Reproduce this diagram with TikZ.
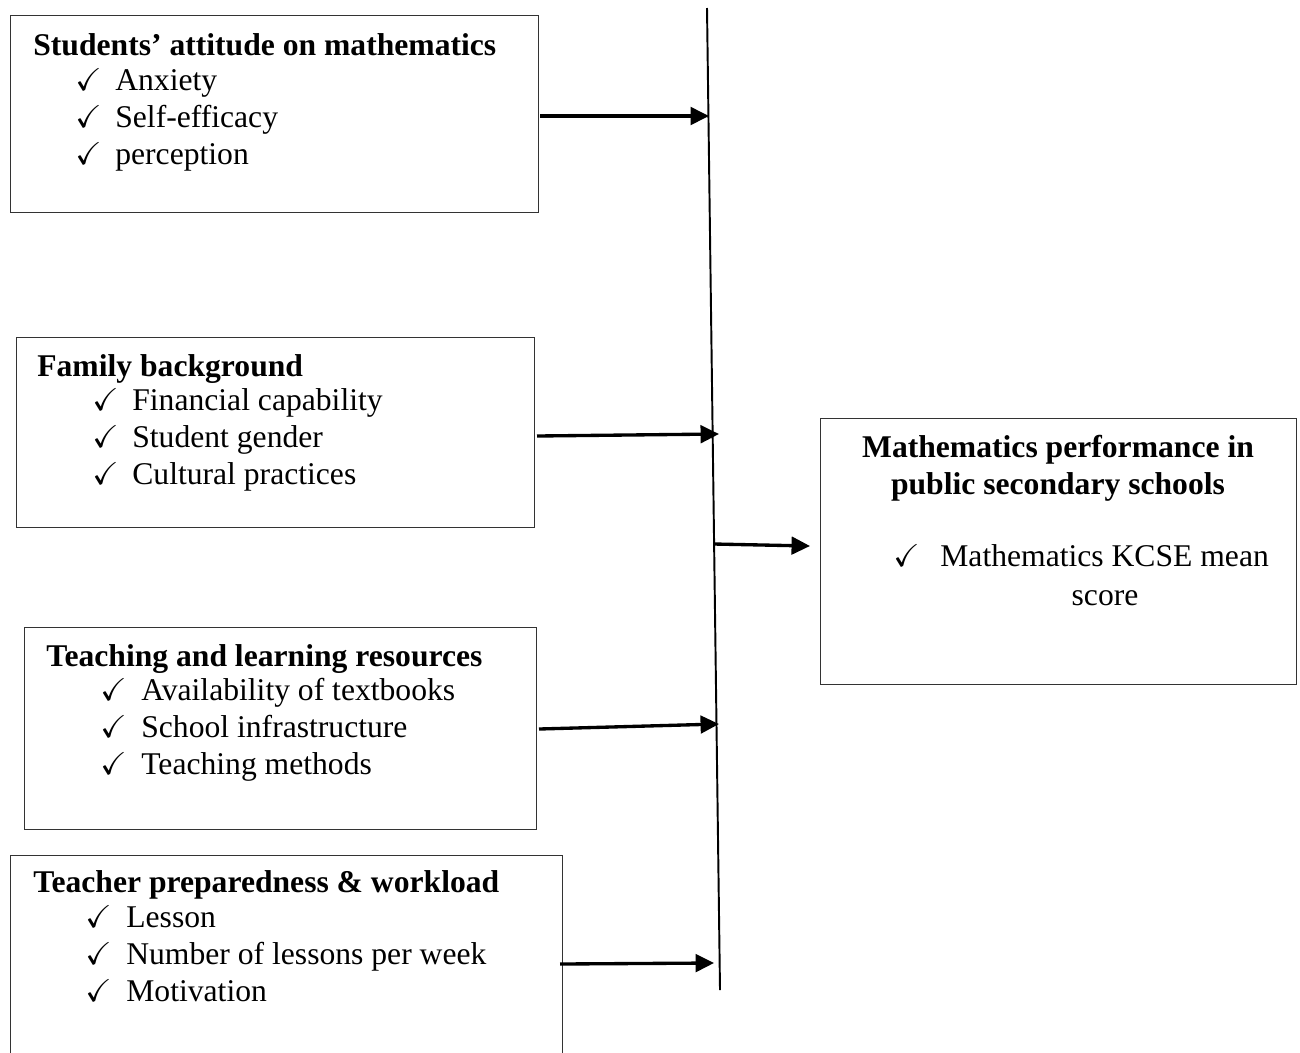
\documentclass[tikz,border=0pt]{standalone}
\usepackage{amssymb}
\usepackage{fontspec}
\setmainfont{Liberation Serif}
\usetikzlibrary{arrows.meta}

\begin{document}
\begin{tikzpicture}[
  x=0.02cm,
  y=-0.02cm,
  every node/.style={font=\fontsize{18}{21}\selectfont, inner sep=0pt},
  box/.style={draw=black!80, line width=0.6pt, anchor=north west},
  heading/.style={font=\fontsize{18}{21}\selectfont\bfseries, anchor=base west},
  item/.style={anchor=base west},
  tickmark/.style={font=\fontsize{18}{21}\selectfont, anchor=base west,
                   text height=8pt, text depth=0pt},
  spine/.style={line width=1.1pt},
  link/.style={line width=1.9pt, -{Triangle[length=10.5pt, width=10pt]}}
]
  \useasboundingbox (0,0) rectangle (1300,1052);

  % ---- the four factor boxes -------------------------------------------
  \node[box, minimum width=10.56cm, minimum height=3.94cm] (attbox) at (10,15) {};
  \node[box, minimum width=10.36cm, minimum height=3.80cm] (fambox) at (16,337) {};
  \node[box, minimum width=10.24cm, minimum height=4.04cm] (resbox) at (24,627) {};
  \node[box, minimum width=11.04cm, minimum height=4.20cm] (tchbox) at (10,855) {};

  % ---- outcome box -----------------------------------------------------
  \node[box, minimum width=9.52cm, minimum height=5.32cm] (perfbox) at (820,418) {};

  % ---- students' attitude ----------------------------------------------
  \node[heading] (atthead) at (33,55) {Students’ attitude on mathematics};
  \node[tickmark] (attck1) at (75,90) {$\checkmark$};
  \node[item] (attit1) at (115,90) {Anxiety};
  \node[tickmark] (attck2) at (75,127) {$\checkmark$};
  \node[item] (attit2) at (115,127) {Self-efficacy};
  \node[tickmark] (attck3) at (75,164) {$\checkmark$};
  \node[item] (attit3) at (115,164) {perception};

  % ---- family background -----------------------------------------------
  \node[heading] (famhead) at (37,376) {Family background};
  \node[tickmark] (famck1) at (92,410) {$\checkmark$};
  \node[item] (famit1) at (132,410) {Financial capability};
  \node[tickmark] (famck2) at (92,447) {$\checkmark$};
  \node[item] (famit2) at (132,447) {Student gender};
  \node[tickmark] (famck3) at (92,484) {$\checkmark$};
  \node[item] (famit3) at (132,484) {Cultural practices};

  % ---- teaching and learning resources ---------------------------------
  \node[heading] (reshead) at (46,666) {Teaching and learning resources};
  \node[tickmark] (resck1) at (100,700) {$\checkmark$};
  \node[item] (resit1) at (141,700) {Availability of textbooks};
  \node[tickmark] (resck2) at (100,737) {$\checkmark$};
  \node[item] (resit2) at (141,737) {School infrastructure};
  \node[tickmark] (resck3) at (100,774) {$\checkmark$};
  \node[item] (resit3) at (141,774) {Teaching methods};

  % ---- teacher preparedness --------------------------------------------
  \node[heading] (tchhead) at (33,892) {Teacher preparedness \& workload};
  \node[tickmark] (tchck1) at (85,927) {$\checkmark$};
  \node[item] (tchit1) at (126,927) {Lesson};
  \node[tickmark] (tchck2) at (85,964) {$\checkmark$};
  \node[item] (tchit2) at (126,964) {Number of lessons per week};
  \node[tickmark] (tchck3) at (85,1001) {$\checkmark$};
  \node[item] (tchit3) at (126,1001) {Motivation};

  % ---- outcome text ----------------------------------------------------
  \node[font=\fontsize{18}{21}\selectfont\bfseries, anchor=base] (perfhd1) at (1058,457) {Mathematics performance in};
  \node[font=\fontsize{18}{21}\selectfont\bfseries, anchor=base] (perfhd2) at (1058,494) {public secondary schools};
  \node[tickmark] (perfck) at (893,566) {$\checkmark$};
  \node[item] (perfit1) at (940,566) {Mathematics KCSE mean};
  \node[anchor=base] (perfit2) at (1105,605) {score};

  % ---- the spine -------------------------------------------------------
  \coordinate (sptop) at (707,8);
  \coordinate (spbot) at (720,990);
  \draw[spine] (sptop) -- (spbot);

  % ---- arrows into the spine -------------------------------------------
  \coordinate (tail1) at (540,116);
  \coordinate (head1) at (709,116);
  \coordinate (tail2) at (537,436);
  \coordinate (head2) at (719,434);
  \coordinate (tail3) at (539,729);
  \coordinate (head3) at (719,724);
  \coordinate (tail4) at (560,964);
  \coordinate (head4) at (714,963);
  \draw[link] (tail1) -- (head1);
  \draw[link] (tail2) -- (head2);
  \draw[link] (tail3) -- (head3);
  \draw[link] (tail4) -- (head4);

  % ---- spine to outcome ------------------------------------------------
  \coordinate (tail5) at (714,544);
  \draw[link] (tail5) -- ([xshift=-0.2cm]perfbox.west |- 0,546);

\end{tikzpicture}
\end{document}
